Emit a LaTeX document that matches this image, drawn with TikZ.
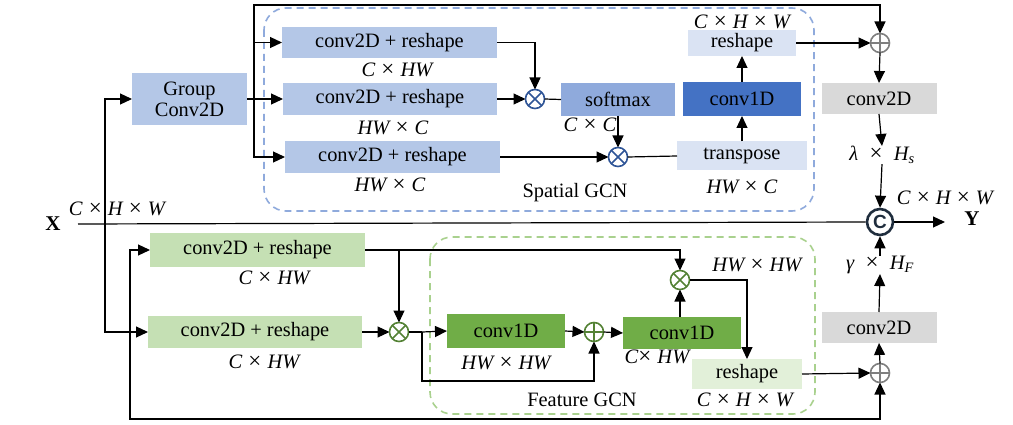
\documentclass[tikz,border=0pt]{standalone}
\usepackage{fontspec}
\setmainfont{Liberation Serif}
\newfontfamily\catfont{Liberation Sans}
\usetikzlibrary{arrows.meta,calc}
\definecolor{bluebox}{HTML}{B4C7E7}
\definecolor{softblue}{HTML}{8FAADC}
\definecolor{darkblue}{HTML}{4472C4}
\definecolor{paleblue}{HTML}{DAE3F3}
\definecolor{greybox}{HTML}{D9D9D9}
\definecolor{greenbox}{HTML}{C5E0B4}
\definecolor{midgreen}{HTML}{70AD47}
\definecolor{palegreen}{HTML}{E2F0D9}
\definecolor{opblue}{HTML}{2F5597}
\definecolor{opgreen}{HTML}{548235}
\definecolor{opgrey}{HTML}{7F7F7F}
\definecolor{catcol}{HTML}{1F2D3D}
\definecolor{dashblue}{HTML}{8FAADC}
\definecolor{dashgreen}{HTML}{A9D18E}
\newcommand{\ii}[1]{{\itshape #1}}
\newcommand{\tms}{\hspace{0.3em}{\fontsize{23}{24}\selectfont ×}\hspace{0.3em}}
\tikzset{
  box/.style={inner sep=0pt, outer sep=0pt, align=center},
  lbl/.style={inner sep=0pt, font=\fontsize{20.5}{24}\selectfont},
  conn/.style={line width=1.2pt, draw=black},
  arr/.style={conn, -{Triangle[length=12pt,width=11pt]}},
  otimes/.style={circle, minimum size=19pt, inner sep=0pt, outer sep=0pt, line width=1.6pt,
    draw=#1, path picture={\draw[#1, line width=1.6pt]
      (path picture bounding box.north west) -- (path picture bounding box.south east)
      (path picture bounding box.north east) -- (path picture bounding box.south west);}},
  oplus/.style={circle, minimum size=19pt, inner sep=0pt, outer sep=0pt, line width=1.6pt,
    draw=#1, path picture={\draw[#1, line width=1.6pt]
      (path picture bounding box.north) -- (path picture bounding box.south)
      (path picture bounding box.east) -- (path picture bounding box.west);}},
  group/.style={rounded corners=22pt, line width=1.6pt, dash pattern=on 7pt off 5pt},
}
\begin{document}
\begin{tikzpicture}[x=1pt, y=-1pt, font=\fontsize{20.4}{24}\selectfont]
\useasboundingbox (0,0) rectangle (1013,425);

% group frames
\draw[group, draw=dashblue] (264,8) rectangle (814,211);
\draw[group, draw=dashgreen] (430,237) rectangle (815,414);

% ---- nodes: spatial branch
\node[box, fill=bluebox, minimum width=115pt, minimum height=52pt] (gc) at (189.5,99) {Group\\[-3pt]Conv2D};
\node[box, fill=bluebox, minimum width=215pt, minimum height=31pt] (A) at (389.5,42.5) {conv2D + reshape};
\node[box, fill=bluebox, minimum width=214pt, minimum height=32pt] (B) at (390,99) {conv2D + reshape};
\node[box, fill=bluebox, minimum width=215pt, minimum height=32pt] (C) at (392.5,157) {conv2D + reshape};
\node[otimes=opblue] (m1) at (535,99) {};
\node[otimes=opblue] (m2) at (618,157) {};
\node[box, fill=softblue, minimum width=114pt, minimum height=33pt] (sm) at (618,99.5) {softmax};
\node[box, fill=paleblue, minimum width=130pt, minimum height=29pt] (tr) at (742,156) {transpose};
\node[box, fill=darkblue, minimum width=118pt, minimum height=34pt] (c1) at (742,99) {conv1D};
\node[box, fill=paleblue, minimum width=108pt, minimum height=26pt] (rs) at (742,43) {reshape};
\node[oplus=opgrey] (p1) at (880,43) {};
\node[box, fill=greybox, minimum width=115pt, minimum height=31pt] (g1) at (879,98.5) {conv2D};
\node[lbl] (lam) at (882,155) {\ii{λ}\hspace{0.25em}\tms\hspace{0.25em}\ii{H}\textsubscript{\ii{s}}};
\node[circle, draw=catcol, line width=2.6pt, minimum size=26pt, inner sep=0pt,
      font=\catfont\bfseries\fontsize{19}{20}\selectfont, text=catcol] (cat) at (880,222) {C};
\node[box, font=\bfseries\fontsize{21}{24}\selectfont] (Y) at (972,219) {Y};
\node[box, font=\bfseries\fontsize{21}{24}\selectfont] (X) at (53,224) {X};

% labels spatial
\node[lbl] (t1) at (742,22) {\ii{C}\tms\ii{H}\tms\ii{W}};
\node[lbl] (t2) at (397,70) {\ii{C}\tms\ii{HW}};
\node[lbl] (t3) at (393,128) {\ii{HW}\tms\ii{C}};
\node[lbl] (t4) at (390,185) {\ii{HW}\tms\ii{C}};
\node[lbl] (t5) at (590,125) {\ii{C}\tms\ii{C}};
\node[lbl] (t6) at (742,187) {\ii{HW}\tms\ii{C}};
\node[box] (sg) at (575,193) {Spatial GCN};
\node[lbl] (t7) at (945,198) {\ii{C}\tms\ii{H}\tms\ii{W}};
\node[lbl] (t8) at (117,209) {\ii{C}\tms\ii{H}\tms\ii{W}};

% ---- nodes: feature branch
\node[box, fill=greenbox, minimum width=215pt, minimum height=34pt] (L1) at (257.5,250) {conv2D + reshape};
\node[box, fill=greenbox, minimum width=214pt, minimum height=32pt] (L2) at (255,332) {conv2D + reshape};
\node[otimes=opgreen] (m4) at (399,332) {};
\node[box, fill=midgreen, minimum width=118pt, minimum height=34pt] (fc1) at (506,331) {conv1D};
\node[oplus=opgreen] (p3) at (594,332) {};
\node[box, fill=midgreen, minimum width=118pt, minimum height=32pt] (fc2) at (682,333) {conv1D};
\node[otimes=opgreen] (m3) at (680,280) {};
\node[box, fill=palegreen, minimum width=110pt, minimum height=30pt] (fr) at (747,374) {reshape};
\node[oplus=opgrey] (p2) at (880,373) {};
\node[box, fill=greybox, minimum width=115pt, minimum height=31pt] (g2) at (879,327.5) {conv2D};
\node[lbl] (gam) at (880,265) {\ii{γ}\hspace{0.25em}\tms\hspace{0.25em}\ii{H}\textsubscript{\ii{F}}};

% labels feature
\node[lbl] (u1) at (274,278) {\ii{C}\tms\ii{HW}};
\node[lbl] (u2) at (264,362) {\ii{C}\tms\ii{HW}};
\node[lbl] (u3) at (506,363) {\ii{HW}\tms\ii{HW}};
\node[lbl] (u4) at (657,357) {\ii{C}{\fontsize{23}{24}\selectfont ×}\hspace{0.3em}\ii{HW}};
\node[lbl] (u5) at (757,265) {\ii{HW}\tms\ii{HW}};
\node[lbl] (u6) at (745,400) {\ii{C}\tms\ii{H}\tms\ii{W}};
\node[box] (fg) at (582,400) {Feature GCN};

% ---- junction coordinates
\coordinate (xin) at (78,224);
\coordinate (j1) at (105,224);
\coordinate (j2) at (254,99);
\coordinate (tc) at (880,5);
\coordinate (j3) at (130,332);
\coordinate (bc) at (880,419);
\coordinate (j4) at (422,332);
\coordinate (j5) at (422,381);
\coordinate (yend) at (945,222);

% ---- connectors
\draw[conn] (xin) -- (cat.west);
\draw[arr] (j1) |- (gc.west);
\draw[arr] (j1) |- (L2.west);
\draw[conn] (gc.east) -- (j2);
\draw[arr] (j2) |- (A.west);
\draw[arr] (j2) -- (B.west);
\draw[arr] (j2) |- (C.west);
\draw[arr] (j2) |- (tc) -- (p1.north);
\draw[arr] (A.east) -| (m1.north);
\draw[arr] (B.east) -- (m1.west);
\draw[conn] (m1.east) -- (sm.west);
\draw[arr] (sm.south) -- (m2.north);
\draw[arr] (C.east) -- (m2.west);
\draw[conn] (m2.east) -- (tr.west);
\draw[arr] (tr.north) -- (c1.south);
\draw[arr] (c1.north) -- (rs.south);
\draw[arr] (rs.east) -- (p1.west);
\draw[arr] (p1.south) -- (g1.north);
\draw[arr] (g1.south) -- (lam.north);
\draw[arr] (lam.south) -- (cat.north);
\draw[arr] (cat.east) -- (yend);

\draw[arr] (j3) |- (L1.west);
\draw[arr] (j3) |- (bc) -- (p2.south);
\draw[arr] (L1.east) -| (m3.north);
\draw[arr] (m4 |- L1.east) -- (m4.north);
\draw[arr] (L2.east) -- (m4.west);
\draw[conn] (m4.east) -- (j4);
\draw[arr] (j4) -- (fc1.west);
\draw[arr] (j4) -- (j5) -| (p3.south);
\draw[arr] (fc1.east) -- (p3.west);
\draw[arr] (p3.east) -- (fc2.west);
\draw[arr] (m3 |- fc2.north) -- (m3.south);
\draw[arr] (m3.east) -| (fr.north);
\draw[arr] (fr.east) -- (p2.west);
\draw[arr] (p2.north) -- (g2.south);
\draw[arr] (g2.north) -- (gam.south);
\draw[arr] (gam.north) -- (cat.south);
\end{tikzpicture}
\end{document}
